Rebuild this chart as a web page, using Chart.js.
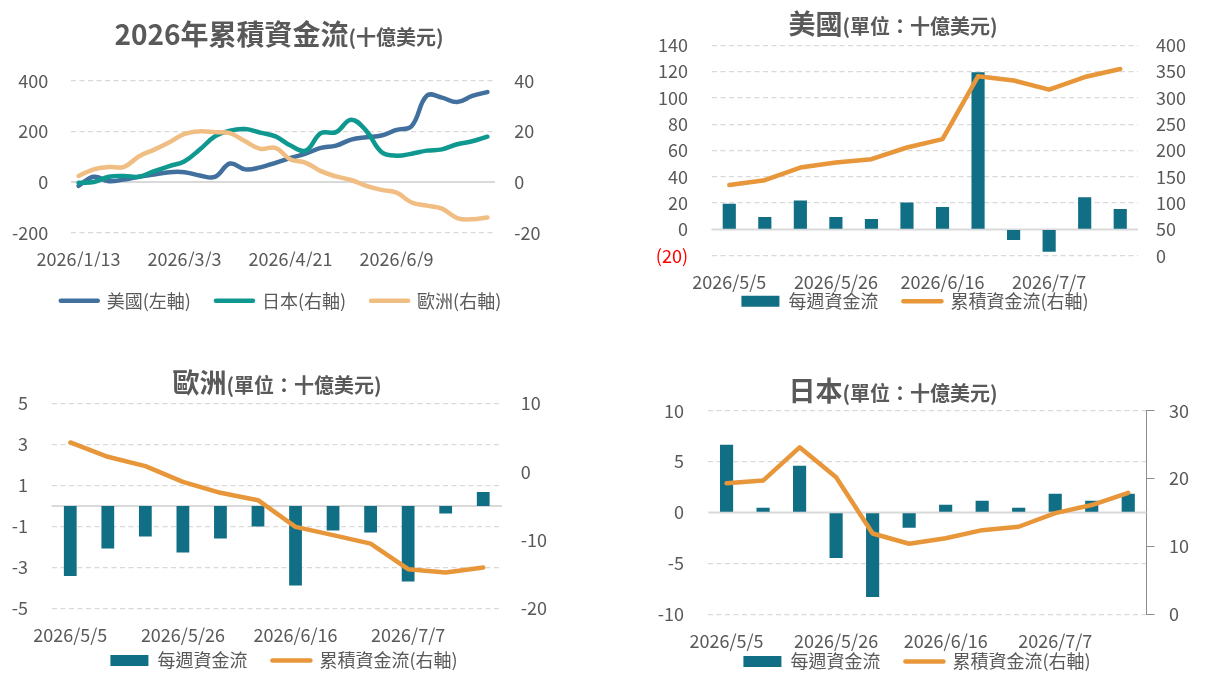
<!DOCTYPE html>
<html>
<head>
<meta charset="utf-8">
<title>2026年累積資金流</title>
<script src="https://cdn.jsdelivr.net/npm/chart.js"></script>
<style>
  body { margin: 0; background: #fff; overflow: hidden; width: 1206px; height: 677px; position: relative;
         font-family: "Noto Sans CJK TC", "Noto Sans", sans-serif; }
  canvas { position: absolute; }
  .title { position: absolute; width: 600px; text-align: center; color: #595959; font-weight: bold;
           white-space: nowrap; line-height: 1; z-index: 2; }
  .title .big { font-size: 27px; }
  .title .small { font-size: 20px; }
</style>
</head>
<body>
<div class="title" style="left:-21px; top:19px"><span class="big" style="font-size:28px">2026年累積資金流</span><span class="small">(十億美元)</span></div>
<div class="title" style="left:593px; top:9px"><span class="big">美國</span><span class="small">(單位：十億美元)</span></div>
<div class="title" style="left:-23px; top:368px"><span class="big">歐洲</span><span class="small">(單位：十億美元)</span></div>
<div class="title" style="left:593px; top:376px"><span class="big">日本</span><span class="small">(單位：十億美元)</span></div>

<canvas id="cumChart" width="603" height="338" style="left:0; top:0"></canvas>
<canvas id="usChart" width="603" height="350" style="left:603px; top:0"></canvas>
<canvas id="euChart" width="603" height="382" style="left:0; top:320px"></canvas>
<canvas id="jpChart" width="603" height="388" style="left:603px; top:320px"></canvas>

<script>
    // weekly dates, 2026
    const dates = ['2026/1/13', '2026/1/20', '2026/1/27', '2026/2/3', '2026/2/10', '2026/2/17', '2026/2/24',
                   '2026/3/3', '2026/3/10', '2026/3/17', '2026/3/24', '2026/3/31', '2026/4/7', '2026/4/14',
                   '2026/4/21', '2026/4/28', '2026/5/5', '2026/5/12', '2026/5/19', '2026/5/26', '2026/6/2',
                   '2026/6/9', '2026/6/16', '2026/6/23', '2026/6/30', '2026/7/7', '2026/7/14', '2026/7/21'];
    const weeks = ['2026/5/5', '2026/5/12', '2026/5/19', '2026/5/26', '2026/6/2', '2026/6/9',
                   '2026/6/16', '2026/6/23', '2026/6/30', '2026/7/7', '2026/7/14', '2026/7/21'];

    // cumulative flows since start of year (billion USD)
    const cumUS = [-15, 21, 3, 10, 21, 30, 39, 39, 26, 20, 73, 50, 58, 76, 95, 112,
                   134.6, 143.5, 167.6, 177, 183.5, 205.7, 221.6, 341, 333, 315.6, 339.7, 355];
    const cumJP = [-0.3, 0, 2.1, 2.4, 2.1, 4.3, 6.3, 8.2, 12.8, 18, 20.3, 20.9, 19.5, 18, 14.4, 12.4,
                   19.3, 19.7, 24.6, 20.2, 11.9, 10.4, 11.2, 12.4, 12.9, 14.9, 16.1, 17.9];
    const cumEU = [2.4, 5.0, 5.9, 6.0, 10.2, 12.8, 15.7, 19.0, 20.0, 19.7, 19.3, 16.1, 13.1, 13.5, 8.9, 7.6,
                   4.3, 2.2, 0.8, -1.5, -3.1, -4.2, -8.1, -9.3, -10.5, -14.2, -14.7, -14.0];

    // weekly flows and running totals for the last 12 weeks
    const usWeekly = [19.5, 9.5, 22, 9.5, 8, 20.5, 17, 119.5, -8, -17, 24.5, 15.5];
    const usCum = [134.6, 143.5, 167.6, 177, 183.5, 205.7, 221.6, 341, 333, 315.6, 339.7, 355];
    const euWeekly = [-3.41, -2.07, -1.49, -2.27, -1.59, -1.0, -3.88, -1.2, -1.29, -3.68, -0.37, 0.68];
    const euCum = [4.3, 2.2, 0.83, -1.46, -3.07, -4.15, -8.05, -9.27, -10.5, -14.24, -14.73, -14.0];
    const jpWeekly = [6.66, 0.46, 4.59, -4.46, -8.3, -1.5, 0.75, 1.15, 0.46, 1.84, 1.15, 1.84];
    const jpCum = [19.3, 19.7, 24.6, 20.2, 11.9, 10.4, 11.2, 12.4, 12.9, 14.9, 16.1, 17.9];

    const GRID = '#D9D9D9';
    const BAR = '#106E85';
    const ORANGE = '#E8963A';

    Chart.defaults.font.family = '"Noto Sans CJK TC", "Noto Sans", sans-serif';
    Chart.defaults.font.size = 18;
    Chart.defaults.color = '#595959';

    // solid light line at zero on the left axis
    const zeroLine = {
        id: 'zeroLine',
        beforeDatasetsDraw(chart) {
            const y = chart.scales.y.getPixelForValue(0);
            const a = chart.chartArea;
            const c = chart.ctx;
            c.save();
            c.strokeStyle = GRID;
            c.lineWidth = 2;
            c.beginPath();
            c.moveTo(a.left, y);
            c.lineTo(a.right, y);
            c.stroke();
            c.restore();
        }
    };

    // the legend sits tight under the date labels, so pull it up after layout
    const legendShift = {
        id: 'legendShift',
        afterLayout(chart, args, opts) {
            const lg = chart.legend;
            if (lg && opts.dy) {
                lg.top += opts.dy;
                lg.bottom += opts.dy;
            }
        }
    };

    function legendItems(chart) {
        const items = Chart.defaults.plugins.legend.labels.generateLabels(chart);
        items.forEach(it => {
            const ds = chart.data.datasets[it.datasetIndex];
            if (ds.type === 'bar') {
                it.pointStyle = 'rect';
                it.lineWidth = 0;
            } else {
                it.pointStyle = 'line';
                it.lineWidth = 4.5;
                it.strokeStyle = ds.borderColor;
                it.lineCap = 'round';
            }
        });
        return items.sort((a, b) => a.datasetIndex - b.datasetIndex);
    }

    function legend(boxW) {
        return {
            position: 'bottom',
            labels: { usePointStyle: true, pointStyleWidth: boxW, boxHeight: 11, padding: 25, generateLabels: legendItems }
        };
    }

    function xAxis(labels, every, h) {
        return {
            offset: true,
            grid: { display: false, drawTicks: false },
            border: { display: false },
            ticks: { autoSkip: false, maxRotation: 0, padding: 16,
                     callback: (v, i) => i % every === 0 ? labels[i] : '' },
            afterFit: s => { s.height = h; }
        };
    }

    function leftAxis(min, max, step, w, pad, fmt) {
        return {
            position: 'left', min: min, max: max,
            ticks: { stepSize: step, padding: pad, callback: fmt || (v => v),
                     color: c => (fmt && c.tick && c.tick.value < 0) ? '#FF0000' : '#595959' },
            grid: { drawTicks: false, lineWidth: 1.3,
                    color: c => (c.tick && c.tick.value === 0) ? 'rgba(0,0,0,0)' : GRID },
            border: { display: false, dash: [5, 3.5] },
            afterFit: s => { s.width = w; }
        };
    }

    function rightAxis(min, max, step, w, pad) {
        return {
            position: 'right', min: min, max: max,
            ticks: { stepSize: step, padding: pad },
            grid: { drawOnChartArea: false, drawTicks: false },
            border: { display: false },
            afterFit: s => { s.width = w; }
        };
    }

    function lineSet(label, data, color, axis, order, tension) {
        return { type: 'line', label: label, data: data, borderColor: color, backgroundColor: color,
                 borderWidth: 4.5, pointRadius: 0, yAxisID: axis, order: order, tension: tension,
                 borderJoinStyle: 'round', borderCapStyle: 'round' };
    }

    function barSet(data, pct) {
        return { type: 'bar', label: '每週資金流', data: data, backgroundColor: BAR, yAxisID: 'y',
                 order: 1, barPercentage: pct, categoryPercentage: 1 };
    }

    // 2026 cumulative flows
    new Chart(document.getElementById('cumChart'), {
        type: 'line',
        data: {
            labels: dates,
            datasets: [
                lineSet('美國(左軸)', cumUS, '#41709F', 'y', 3, 0.4),
                lineSet('日本(右軸)', cumJP, '#0E988F', 'y1', 2, 0.4),
                lineSet('歐洲(右軸)', cumEU, '#F0BD83', 'y1', 1, 0.4)
            ]
        },
        options: {
            responsive: false, animation: false,
            layout: { padding: { left: 0, right: 41, top: 80.7, bottom: 18.3 } },
            plugins: { legend: legend(37), tooltip: { enabled: false } },
            scales: {
                x: xAxis(dates, 7, 34),
                y: leftAxis(-200, 400, 200, 71, 22.7),
                y1: rightAxis(-20, 40, 20, 67, 19.3)
            }
        },
        plugins: [zeroLine]
    });

    // United States
    new Chart(document.getElementById('usChart'), {
        type: 'bar',
        data: {
            labels: weeks,
            datasets: [barSet(usWeekly, 0.37), lineSet('累積資金流(右軸)', usCum, ORANGE, 'y1', 0, 0)]
        },
        options: {
            responsive: false, animation: false,
            layout: { padding: { left: 21, right: 0, top: 45.3, bottom: 1.3 } },
            plugins: { legend: legend(38), legendShift: { dy: -28.4 }, tooltip: { enabled: false } },
            scales: {
                x: xAxis(weeks, 3, 40),
                y: leftAxis(-20, 140, 20, 87.5, 23.5, v => v < 0 ? '(' + (-v) + ')' : v),
                y1: rightAxis(0, 400, 50, 68, 18)
            }
        },
        plugins: [zeroLine, legendShift]
    });

    // Europe
    new Chart(document.getElementById('euChart'), {
        type: 'bar',
        data: {
            labels: weeks,
            datasets: [barSet(euWeekly, 0.34), lineSet('累積資金流(右軸)', euCum, ORANGE, 'y1', 0, 0)]
        },
        options: {
            responsive: false, animation: false,
            layout: { padding: { left: 0, right: 35, top: 83.5, bottom: 0.5 } },
            plugins: { legend: legend(38), legendShift: { dy: -22 }, tooltip: { enabled: false } },
            scales: {
                x: xAxis(weeks, 3, 40),
                y: leftAxis(-5, 5, 2, 51.5, 23.5),
                y1: rightAxis(-20, 10, 10, 66, 18.7)
            }
        },
        plugins: [zeroLine, legendShift]
    });

    // Japan (right axis has a visible line and tick marks)
    const jpRight = rightAxis(0, 30, 10, 59.5, 14.5);
    jpRight.grid = { drawOnChartArea: false, drawTicks: true, tickLength: 8, color: '#8C8C8C' };
    jpRight.border = { display: true, color: '#8C8C8C', width: 1 };

    new Chart(document.getElementById('jpChart'), {
        type: 'bar',
        data: {
            labels: weeks,
            datasets: [barSet(jpWeekly, 0.36), lineSet('累積資金流(右軸)', jpCum, ORANGE, 'y1', 0, 0)]
        },
        options: {
            responsive: false, animation: false,
            layout: { padding: { left: 25, right: 0, top: 90.7, bottom: 0.7 } },
            plugins: { legend: legend(38), legendShift: { dy: -26.8 }, tooltip: { enabled: false } },
            scales: {
                x: xAxis(weeks, 3, 40),
                y: leftAxis(-10, 10, 5, 80.3, 24.3),
                y1: jpRight
            }
        },
        plugins: [zeroLine, legendShift]
    });
</script>
</body>
</html>
